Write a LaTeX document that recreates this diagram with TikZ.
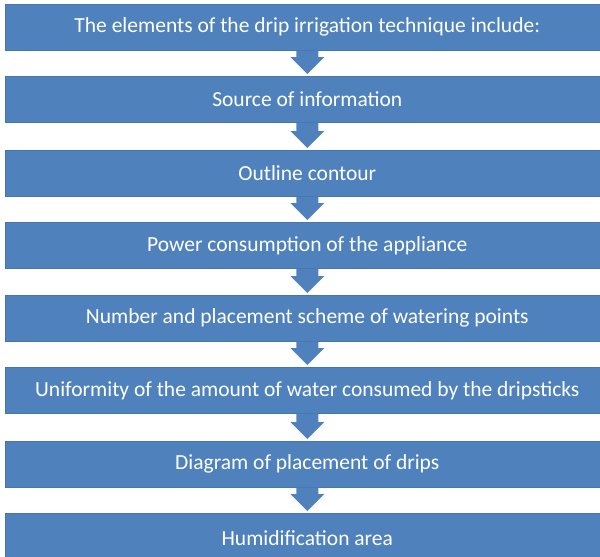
\documentclass[tikz,border=0pt]{standalone}
\usepackage{fontspec}
\setmainfont{Carlito}
\usetikzlibrary{calc}
\definecolor{boxblue}{HTML}{4F81BD}
\definecolor{boxedge}{HTML}{4676B0}
\begin{document}
\begin{tikzpicture}[x=1pt,y=-1pt,
  stage/.style={fill=boxblue,draw=boxedge,line width=0.6pt,text=white,font=\fontsize{21.5}{24}\selectfont,inner sep=0pt,minimum width=604pt,minimum height=46pt,anchor=north west},
  flowarrow/.style={fill=boxblue,draw=none}]
\useasboundingbox (0,0) rectangle (600,557);
\node[stage] (b1) at (5,4) {The elements of the drip irrigation technique include:};
\node[stage] (b2) at (5,76) {Source of information};
\node[stage] (b3) at (5,150) {Outline contour};
\node[stage] (b4) at (5,222) {Power consumption of the appliance};
\node[stage] (b5) at (5,295) {Number and placement scheme of watering points};
\node[stage] (b6) at (5,367) {Uniformity of the amount of water consumed by the dripsticks};
\node[stage] (b7) at (5,441) {Diagram of placement of drips};
\node[stage,minimum height=50pt] (b8) at (5,513) {Humidification area};
\foreach \a/\b in {b1/b2,b2/b3,b3/b4,b4/b5,b5/b6,b6/b7,b7/b8}{
  \path (\a.south) coordinate (s) (\b.north) ++(0,-2) coordinate (t);
  \fill[flowarrow] ($(s)+(-11,0)$) -- ($(s)+(11,0)$) |- ($(t)+(17,-17)$) -- (t) -- ($(t)+(-17,-17)$) -| ($(s)+(-11,0)$) -- cycle;
}
\end{tikzpicture}
\end{document}
